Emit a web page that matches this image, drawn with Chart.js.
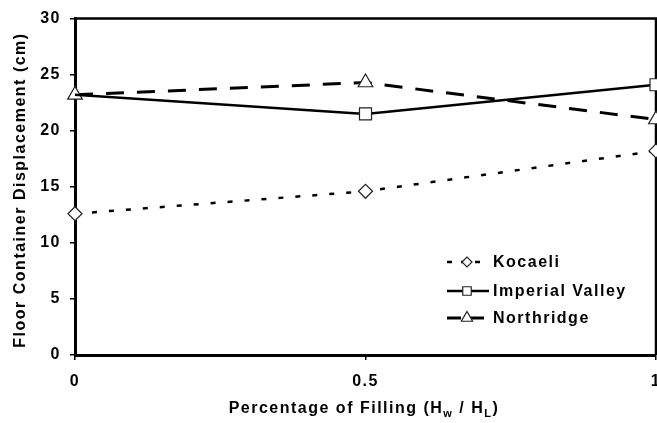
<!DOCTYPE html>
<html><head><meta charset="utf-8">
<script src="https://cdn.jsdelivr.net/npm/chart.js@4.4.0/dist/chart.umd.min.js"></script>
<style>
html,body{margin:0;padding:0;background:#fff;overflow:hidden;width:657px;height:423px}
#wrap{position:absolute;left:0;top:0;width:680px;height:423px}
</style></head><body>
<div id="wrap"><canvas id="c" width="680" height="423"></canvas></div>
<script>
// ---- data ----
const fillingRatio = [0, 0.5, 1];
const xTickValues = [0, 0.5, 1];
const yTickValues = [0, 5, 10, 15, 20, 25, 30];
const seriesNames = ['Kocaeli', 'Imperial Valley', 'Northridge'];
const kocaeli = [12.6, 14.6, 18.2];
const imperialValley = [23.2, 21.5, 24.1];
const northridge = [23.2, 24.3, 21.0];
const yTitle = 'Floor Container Displacement (cm)';
const xTitleParts = [['Percentage of Filling (H', false], ['w', true], [' / H', false], ['L', true], [')', false]];

// ---- styles ----
const FONT = '"Liberation Sans", Arial, sans-serif';
const SPACING = '1.5px';
const pts = (arr) => fillingRatio.map((x, i) => ({x: x, y: arr[i]}));
const styles = [
  {borderWidth: 2.5, borderDash: [5, 12], pointStyle: 'rectRot', pointRadius: 7, legR: 5},
  {borderWidth: 2.5, borderDash: [], pointStyle: 'rect', pointRadius: [0, 8.5, 8.5], legR: 6},
  {borderWidth: 3, borderDash: [18, 13], pointStyle: 'triangle', pointRadius: 8.5, legR: 6.5}
];
const seriesData = [kocaeli, imperialValley, northridge];
const datasets = seriesData.map((arr, i) => Object.assign({
  label: seriesNames[i], data: pts(arr), borderColor: '#000', backgroundColor: '#fff',
  pointBackgroundColor: '#fff', pointBorderColor: '#222', pointBorderWidth: 1.2,
  clip: false, tension: 0, fill: false
}, styles[i]));

const spacingPlugin = {
  id: 'spacing',
  beforeUpdate(chart) { chart.ctx.letterSpacing = SPACING; },
  beforeDraw(chart) { chart.ctx.letterSpacing = SPACING; }
};

const framePlugin = {
  id: 'frame',
  beforeDatasetsDraw(chart) {
    const {ctx, chartArea: a} = chart;
    ctx.save();
    ctx.strokeStyle = '#000';
    ctx.lineWidth = 2.5;
    ctx.beginPath();
    ctx.moveTo(a.left, a.top); ctx.lineTo(a.right, a.top); ctx.lineTo(a.right, a.bottom);
    ctx.stroke();
    ctx.restore();
  }
};

const textPlugin = {
  id: 'texts',
  afterDraw(chart) {
    const {ctx, chartArea: a} = chart;
    ctx.save();
    ctx.letterSpacing = SPACING;
    ctx.fillStyle = '#000';
    // y title
    ctx.save();
    ctx.translate(21, 190);
    ctx.rotate(-Math.PI / 2);
    ctx.font = 'bold 16px ' + FONT;
    ctx.textAlign = 'center';
    ctx.textBaseline = 'middle';
    ctx.fillText(yTitle, 0, 0);
    ctx.restore();
    // x title with subscripts
    const big = 'bold 16px ' + FONT, small = 'bold 11px ' + FONT;
    let total = 0;
    xTitleParts.forEach(([t, sub]) => { ctx.font = sub ? small : big; total += ctx.measureText(t).width; });
    let x = 364 - total / 2;
    const y = 409;
    ctx.textAlign = 'left';
    ctx.textBaseline = 'middle';
    xTitleParts.forEach(([t, sub]) => {
      ctx.font = sub ? small : big;
      ctx.fillText(t, x, sub ? y + 5 : y);
      x += ctx.measureText(t).width;
    });
    // legend
    const rows = [262, 291, 318];
    chart.data.datasets.forEach((ds, i) => {
      const ry = rows[i];
      ctx.save();
      ctx.strokeStyle = '#000';
      ctx.lineWidth = ds.borderWidth;
      ctx.setLineDash(i === 0 ? [5, 9] : (i === 2 ? [14, 9] : []));
      ctx.beginPath(); ctx.moveTo(447, ry); ctx.lineTo(489, ry); ctx.stroke();
      ctx.setLineDash([]);
      ctx.fillStyle = '#fff'; ctx.strokeStyle = '#222'; ctx.lineWidth = 1.2;
      Chart.helpers.drawPoint(ctx, {pointStyle: ds.pointStyle, radius: ds.legR, borderWidth: 1.2, rotation: 0}, 467, ry);
      ctx.restore();
      ctx.font = 'bold 16px ' + FONT;
      ctx.textAlign = 'left';
      ctx.textBaseline = 'middle';
      ctx.fillStyle = '#000';
      ctx.fillText(ds.label, 493, ry + 1);
    });
    ctx.restore();
  }
};

new Chart(document.getElementById('c'), {
  type: 'line',
  data: {datasets: datasets},
  options: {
    responsive: false,
    animation: false,
    devicePixelRatio: 1,
    layout: {padding: {left: 0, top: 12, right: 24, bottom: 0}},
    plugins: {legend: {display: false}, tooltip: {enabled: false}},
    scales: {
      x: {
        type: 'linear', min: 0, max: 1,
        afterBuildTicks(s) { s.ticks = xTickValues.map(v => ({value: v})); },
        afterFit(s) { s.height = 68; },
        ticks: {color: '#000', font: {family: FONT, size: 16, weight: 'bold'}, padding: 12,
                callback: v => String(v), maxRotation: 0},
        grid: {display: true, drawOnChartArea: false, drawTicks: true, tickLength: 5, color: '#000', lineWidth: 1.5},
        border: {display: true, color: '#000', width: 3}
      },
      y: {
        min: 0, max: 30,
        afterBuildTicks(s) { s.ticks = yTickValues.map(v => ({value: v})); },
        afterFit(s) { s.width = 75; },
        ticks: {color: '#000', font: {family: FONT, size: 16, weight: 'bold'}, padding: 9},
        grid: {display: true, drawOnChartArea: false, drawTicks: true, tickLength: 5, color: '#000', lineWidth: 1.5},
        border: {display: true, color: '#000', width: 3}
      }
    }
  },
  plugins: [spacingPlugin, framePlugin, textPlugin]
});
</script>
</body></html>
